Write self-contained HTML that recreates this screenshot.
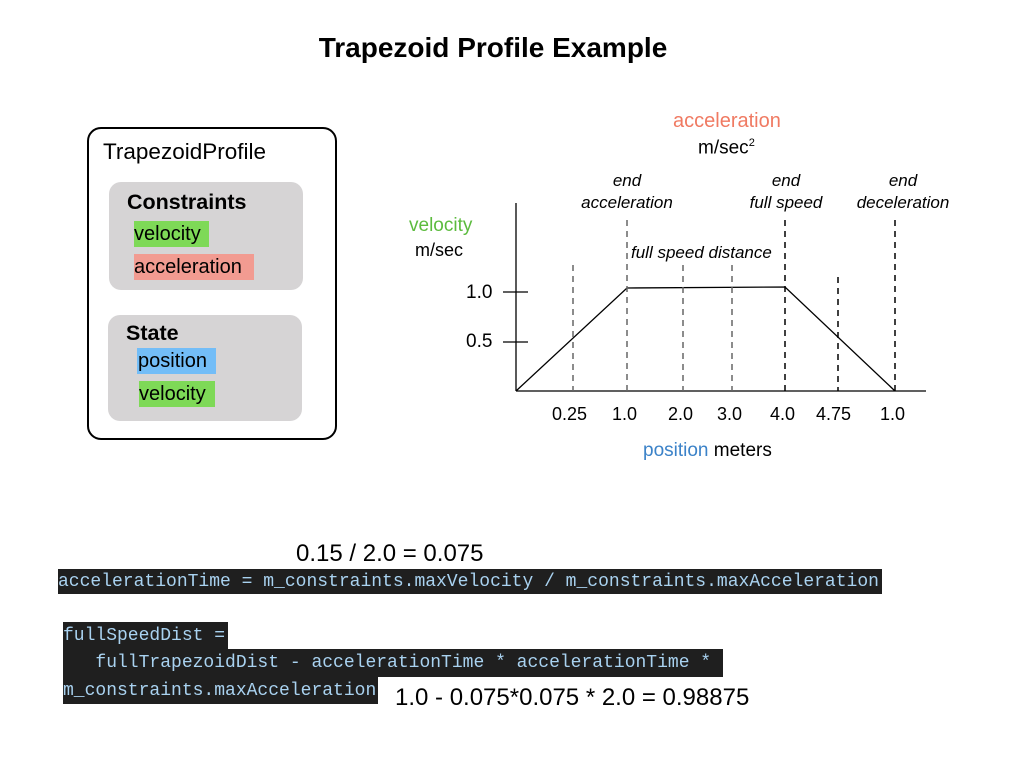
<!DOCTYPE html>
<html><head><style>
body{margin:0;width:1024px;height:768px;background:#fff;position:relative;overflow:hidden;font-family:"Liberation Sans",sans-serif;}
.a{position:absolute;white-space:nowrap;}
.code{position:absolute;background:#1f1f1f;color:#a9d2f0;font-family:"Liberation Mono",monospace;font-size:18px;white-space:pre;line-height:28px;}
</style></head><body>
<div class="a" style="left:0;width:986px;text-align:center;top:32px;font-size:28px;font-weight:bold;">Trapezoid Profile Example</div>

<div class="a" style="left:87px;top:127px;width:250px;height:313px;border:2px solid #000;border-radius:14px;box-sizing:border-box;"></div>
<div class="a" style="left:103px;top:139px;font-size:22.5px;">TrapezoidProfile</div>
<div class="a" style="left:109px;top:182px;width:194px;height:108px;background:#d6d4d5;border-radius:12px;"></div>
<div class="a" style="left:127px;top:190px;font-size:21.5px;font-weight:bold;">Constraints</div>
<div class="a" style="left:134px;top:221px;width:75px;height:26px;background:#7ed957;"></div>
<div class="a" style="left:134px;top:223px;font-size:20px;">velocity</div>
<div class="a" style="left:134px;top:254px;width:120px;height:26px;background:#f29b91;"></div>
<div class="a" style="left:134px;top:256px;font-size:20px;">acceleration</div>
<div class="a" style="left:108px;top:315px;width:194px;height:106px;background:#d6d4d5;border-radius:12px;"></div>
<div class="a" style="left:126px;top:321px;font-size:21.5px;font-weight:bold;">State</div>
<div class="a" style="left:137px;top:348px;width:79px;height:26px;background:#73bdf7;"></div>
<div class="a" style="left:138px;top:350px;font-size:20px;">position</div>
<div class="a" style="left:139px;top:381px;width:76px;height:26px;background:#7ed957;"></div>
<div class="a" style="left:139px;top:383px;font-size:20px;">velocity</div>

<svg class="a" style="left:0;top:0" width="1024" height="768">
<g stroke="#000" stroke-width="1.3" fill="none">
<line x1="516" y1="203" x2="516" y2="391"/>
<line x1="516" y1="391" x2="926" y2="391"/>
<line x1="503" y1="292" x2="528" y2="292"/>
<line x1="503" y1="342" x2="528" y2="342"/>
<polyline points="516,391 627,288 785,287 895,391"/>
</g>
<g stroke-width="1.5" stroke-dasharray="6,5" fill="none">
<line x1="573" y1="265" x2="573" y2="391" stroke="#666"/>
<line x1="627" y1="220" x2="627" y2="391" stroke="#666"/>
<line x1="683" y1="265" x2="683" y2="391" stroke="#666"/>
<line x1="732" y1="265" x2="732" y2="391" stroke="#666"/>
<line x1="785" y1="220" x2="785" y2="391" stroke="#000"/>
<line x1="838" y1="277" x2="838" y2="391" stroke="#000"/>
<line x1="895" y1="220" x2="895" y2="391" stroke="#000"/>
</g>
</svg>
<div class="a" style="left:673px;top:110px;font-size:20px;color:#f07a62;">acceleration</div>
<div class="a" style="left:698px;top:137px;font-size:19px;">m/sec<sup style="font-size:11px">2</sup></div>
<div class="a" style="left:409px;top:215px;font-size:19px;color:#5cbb3e;">velocity</div>
<div class="a" style="left:415px;top:240px;font-size:18px;">m/sec</div>
<div class="a" style="left:572px;top:170px;width:110px;text-align:center;font-size:17px;font-style:italic;line-height:22px;">end<br>acceleration</div>
<div class="a" style="left:731px;top:170px;width:110px;text-align:center;font-size:17px;font-style:italic;line-height:22px;">end<br>full speed</div>
<div class="a" style="left:846px;top:170px;width:114px;text-align:center;font-size:17px;font-style:italic;line-height:22px;">end<br>deceleration</div>
<div class="a" style="left:631px;top:243px;font-size:17px;font-style:italic;">full speed distance</div>
<div class="a" style="left:466px;top:282px;font-size:19px;">1.0</div>
<div class="a" style="left:466px;top:331px;font-size:19px;">0.5</div>
<div class="a" style="left:552px;top:404px;font-size:18px;">0.25</div>
<div class="a" style="left:612px;top:404px;font-size:18px;">1.0</div>
<div class="a" style="left:668px;top:404px;font-size:18px;">2.0</div>
<div class="a" style="left:717px;top:404px;font-size:18px;">3.0</div>
<div class="a" style="left:770px;top:404px;font-size:18px;">4.0</div>
<div class="a" style="left:816px;top:404px;font-size:18px;">4.75</div>
<div class="a" style="left:880px;top:404px;font-size:18px;">1.0</div>
<div class="a" style="left:643px;top:440px;font-size:19px;"><span style="color:#3b82c8">position</span> meters</div>

<div class="a" style="left:296px;top:540px;font-size:24px;">0.15 / 2.0 = 0.075</div>
<div class="code" style="left:58px;top:569px;width:824px;height:25px;line-height:27px;">accelerationTime = m_constraints.maxVelocity / m_constraints.maxAcceleration</div>
<div class="code" style="left:63px;top:622px;width:165px;height:27px;">fullSpeedDist =</div>
<div class="code" style="left:63px;top:649px;width:660px;height:28px;">   fullTrapezoidDist - accelerationTime * accelerationTime *</div>
<div class="code" style="left:63px;top:677px;width:315px;height:27px;">m_constraints.maxAcceleration</div>
<div class="a" style="left:395px;top:684px;font-size:24px;">1.0 - 0.075*0.075 * 2.0 = 0.98875</div>
</body></html>
